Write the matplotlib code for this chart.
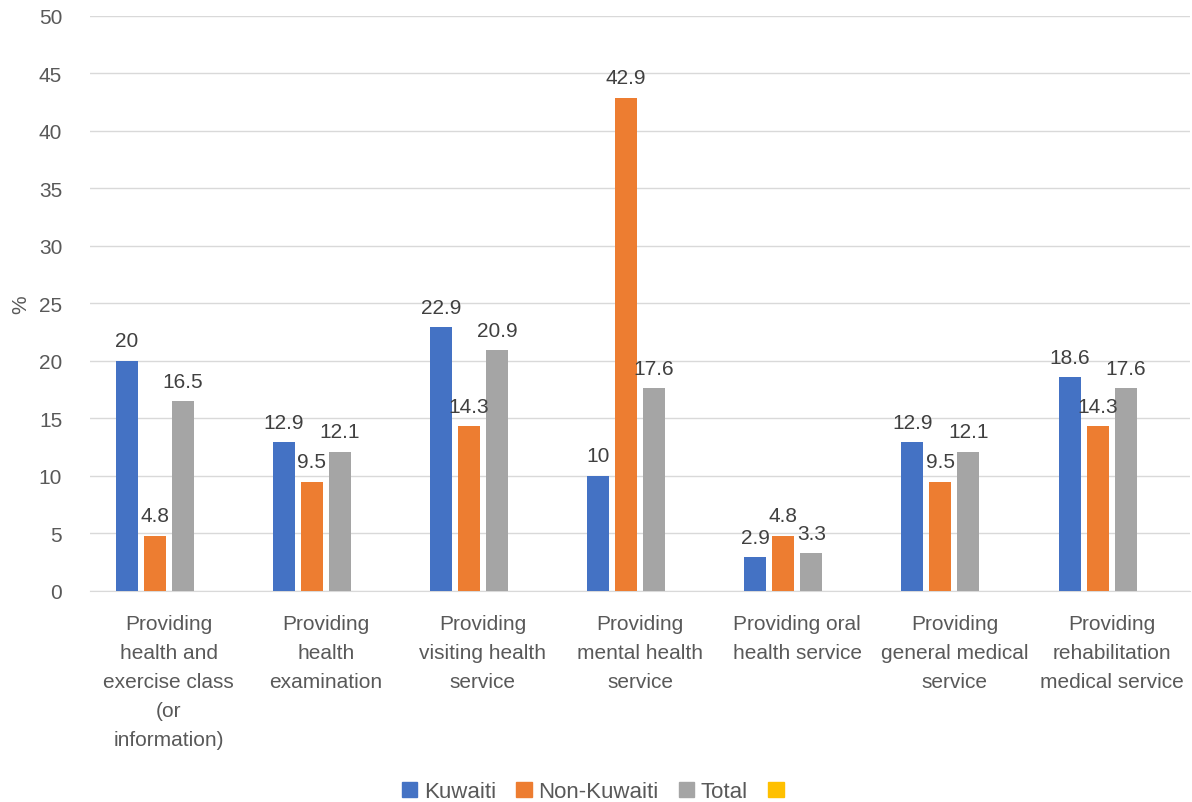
import numpy as np
import matplotlib
matplotlib.use("Agg")
import matplotlib.pyplot as plt
from matplotlib.patches import Patch

plt.rcParams['font.family'] = ['Liberation Sans', 'DejaVu Sans']

# data
categories = ["Providing\nhealth and\nexercise class\n(or\ninformation)",
              "Providing\nhealth\nexamination",
              "Providing\nvisiting health\nservice",
              "Providing\nmental health\nservice",
              "Providing oral\nhealth service",
              "Providing\ngeneral medical\nservice",
              "Providing\nrehabilitation\nmedical service"]
kuwaiti = [20, 12.9, 22.9, 10, 2.9, 12.9, 18.6]
non_kuwaiti = [4.8, 9.5, 14.3, 42.9, 4.8, 9.5, 14.3]
total = [16.5, 12.1, 20.9, 17.6, 3.3, 12.1, 17.6]
blank = [np.nan] * 7   # 4th series is empty in the source

series = [("Kuwaiti", kuwaiti, '#4472C4'),
          ("Non-Kuwaiti", non_kuwaiti, '#ED7D31'),
          ("Total", total, '#A5A5A5'),
          ("", blank, '#FFC000')]

fs = 15

fig = plt.figure(figsize=(11.92, 8.03), dpi=100)
ax = fig.add_axes([0.0755, 0.263, 0.923, 0.716])

x = np.arange(len(categories))
step = 0.178
width = 0.14
handles = []
for i, (name, vals, col) in enumerate(series):
    pos = x + (i - 1.5) * step
    ax.bar(pos, vals, width=width, color=col, zorder=3)
    handles.append(Patch(color=col, label=name))
    for p, v in zip(pos, vals):
        if np.isnan(v):
            continue
        ax.text(p, v + 0.9, f"{v:g}", ha='center', va='bottom',
                fontsize=fs, color='#404040', zorder=4)

ax.set_xlim(-0.5, len(categories) - 0.5)
ax.set_ylim(0, 50)
ax.set_yticks(range(0, 51, 5))
ax.yaxis.grid(True, color='#d9d9d9', lw=1, zorder=0)
ax.set_xticks(x)
ax.set_xticklabels(categories, fontsize=fs, color='#595959', linespacing=1.66)
ax.tick_params(axis='y', labelsize=fs, labelcolor='#595959', length=0, pad=20)
ax.tick_params(axis='x', length=0, pad=17)
for s in ['top', 'right', 'left']:
    ax.spines[s].set_visible(False)
ax.spines['bottom'].set_color('#d9d9d9')
ax.set_ylabel('%', fontsize=fs, color='#595959', labelpad=6)

fig.legend(handles=handles, loc='center', bbox_to_anchor=(0.5, 0.013),
           ncol=4, frameon=False, fontsize=16, handlelength=0.7,
           handleheight=0.7, handletextpad=0.3, columnspacing=0.9,
           labelcolor='#595959')

fig.savefig("out.png", dpi=100)
